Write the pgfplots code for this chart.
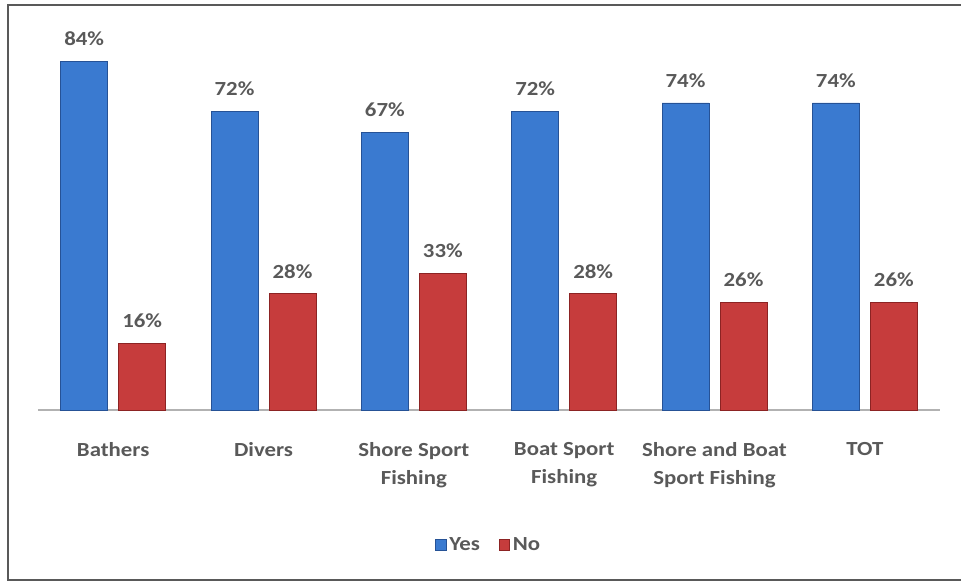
\documentclass[border=0pt]{standalone}
\usepackage{pgfplots}
\pgfplotsset{compat=1.18}
\usepackage{fontspec}
\setmainfont{Carlito}
\newfontfamily\lab[FakeStretch=1.14]{Carlito}
\definecolor{txt}{HTML}{595959}
\definecolor{bF}{RGB}{58,122,208}
\definecolor{bE}{RGB}{38,82,150}
\definecolor{rF}{RGB}{198,60,60}
\definecolor{rE}{RGB}{140,35,35}
\begin{document}
\begin{tikzpicture}[x=1pt,y=1pt]
\begin{axis}[
  scale only axis,
  width=676.5pt, height=292.5pt,
  xmin=-0.5, xmax=5.5, ymin=0, ymax=94,
  axis x line*=bottom, axis y line=none,
  x axis line style={draw=black!30, line width=0.8pt, -},
  xtick={0,...,5}, major tick length=0pt,
  xticklabels={Bathers, Divers, {Shore Sport\\Fishing}, {Boat Sport\\Fishing}, {Shore and Boat\\Sport Fishing}, TOT},
  xticklabel style={align=center, font=\lab\fontsize{15}{21}\selectfont\bfseries, text=txt, yshift=-21pt},
  ybar, bar width=35.25pt,
  /pgf/number format/assume math mode=true,
  nodes near coords={\pgfmathprintnumber{\pgfplotspointmeta}\%},
  nodes near coords style={font=\lab\fontsize{15}{18}\selectfont\bfseries, text=txt, anchor=south, yshift=8pt},
  clip=false,
  legend style={at={(0.5,-0.346)}, anchor=center, draw=none, legend columns=2,
    font=\lab\fontsize{15}{18}\selectfont\bfseries, text=txt,
    /tikz/every even column/.append style={column sep=12pt}},
  legend image code/.code={\path[#1] (0pt,-4pt) rectangle (8pt,4pt);},
]
\addplot[bar shift=-21.75pt, draw=bE, fill=bF, line width=0.6pt]
  coordinates {(0,84) (1,72) (2,67) (3,72) (4,74) (5,74)};
\addplot[bar shift=21.75pt, draw=rE, fill=rF, line width=0.6pt]
  coordinates {(0,16) (1,28) (2,33) (3,28) (4,26) (5,26)};
\legend{Yes, No}
\coordinate (bl) at (rel axis cs:0,0);
\coordinate (tr) at (rel axis cs:1,1);
\end{axis}
\useasboundingbox ([shift={(-28.5pt,-129pt)}]bl) rectangle ([shift={(15.75pt,15pt)}]tr);
\draw[black!65, line width=1.5pt] ([shift={(15.75pt,11.25pt)}]tr) -| ([shift={(-22.5pt,-127.5pt)}]bl) -- ([shift={(15.75pt,-127.5pt)}]bl -| tr);
\end{tikzpicture}
\end{document}
